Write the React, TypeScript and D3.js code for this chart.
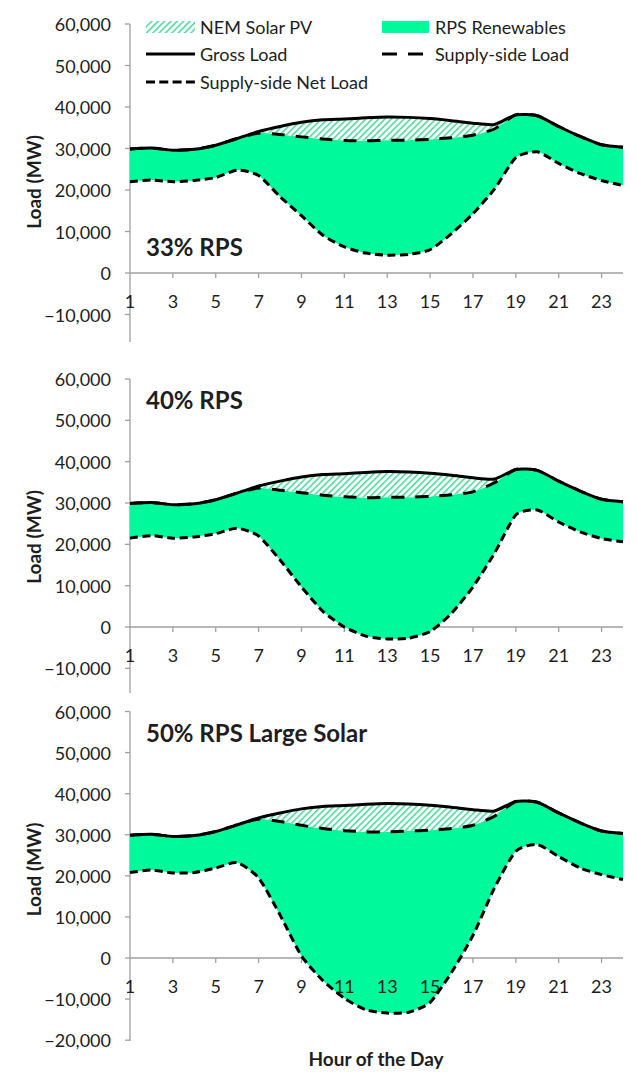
import React from 'react';
import * as d3 from 'd3';

const hours = [1, 2, 3, 4, 5, 6, 7, 8, 9, 10, 11, 12, 13, 14, 15, 16, 17, 18, 19, 20, 21, 22, 23, 24];
const xTickLabels = [1, 3, 5, 7, 9, 11, 13, 15, 17, 19, 21, 23];
const yTicks = [60000, 50000, 40000, 30000, 20000, 10000, 0, -10000, -20000];

const grossLoad = [29900, 30100, 29600, 29800, 30800, 32400, 34100, 35300, 36300, 36900, 37100, 37400, 37600, 37500, 37200, 36700, 36100, 35800, 38100, 37900, 35300, 32900, 30900, 30300];

const supplyLoad33 = [29900, 30100, 29600, 29800, 30800, 32400, 33700, 33400, 32800, 32300, 31950, 31850, 32000, 32000, 32200, 32600, 33200, 34700, 38100, 37900, 35300, 32900, 30900, 30300];
const netLoad33 = [22000, 22400, 22000, 22300, 23000, 24800, 23500, 18400, 13800, 9100, 6300, 4800, 4300, 4500, 5600, 9500, 14300, 20200, 27800, 29200, 26400, 24000, 22300, 21100];

const supplyLoad40 = [29900, 30100, 29600, 29800, 30800, 32400, 33600, 33100, 32500, 31900, 31500, 31300, 31400, 31400, 31600, 32000, 32700, 34900, 38100, 37900, 35300, 32900, 30900, 30300];
const netLoad40 = [21500, 22100, 21500, 21800, 22600, 23900, 22000, 16200, 9700, 3800, 0, -2200, -2900, -2700, -1100, 3300, 9700, 17800, 27100, 28300, 25400, 23000, 21400, 20600];

const supplyLoad50 = [29900, 30100, 29600, 29800, 30800, 32400, 33800, 33200, 32300, 31500, 31000, 30700, 30700, 30900, 31100, 31500, 32300, 34500, 38100, 37900, 35300, 32900, 30900, 30300];
const netLoad50 = [20800, 21400, 20700, 20800, 21900, 23200, 19500, 10500, 500, -5500, -9800, -12600, -13400, -13200, -10800, -3500, 5500, 17000, 26000, 27600, 24700, 21900, 20300, 19100];

const panelTitles = ['33% RPS', '40% RPS', '50% RPS Large Solar'];
const legendItems = ['NEM Solar PV', 'RPS Renewables', 'Gross Load', 'Supply-side Load', 'Supply-side Net Load'];

const FONT = 'Lato, "Open Sans", sans-serif';
const GREEN = '#00F99A';
const AXIS = '#a0a0a0';
const TEXT = '#1e1e1e';

const panels = [
  { title: panelTitles[0], supply: supplyLoad33, net: netLoad33, top: 24, zero: 273, axisBottom: 342, minTick: -10000, titleY: 246 },
  { title: panelTitles[1], supply: supplyLoad40, net: netLoad40, top: 379, zero: 627, axisBottom: 693, minTick: -10000, titleY: 399 },
  { title: panelTitles[2], supply: supplyLoad50, net: netLoad50, top: 711.5, zero: 958, axisBottom: 1041, minTick: -20000, titleY: 732 },
];

const x = d3.scaleLinear().domain([1, 24]).range([130, 623]);

function Panel({ p }: { p: any }) {
  const y = d3.scaleLinear().domain([0, 60000]).range([p.zero, p.top]);
  const curve = d3.curveCardinal.tension(0.35);
  const rows = hours.map((h, i) => ({ h, g: grossLoad[i], s: p.supply[i], n: p.net[i] }));
  const greenArea = d3.area<any>().x(d => x(d.h)).y0(d => y(d.n)).y1(d => y(d.s)).curve(curve)(rows) || '';
  const hatchArea = d3.area<any>().x(d => x(d.h)).y0(d => y(d.s)).y1(d => y(d.g)).curve(curve)(rows) || '';
  const grossLine = d3.line<any>().x(d => x(d.h)).y(d => y(d.g)).curve(curve)(rows) || '';
  const supplyLine = d3.line<any>().x(d => x(d.h)).y(d => y(d.s)).curve(curve)(rows) || '';
  const netLine = d3.line<any>().x(d => x(d.h)).y(d => y(d.n)).curve(curve)(rows) || '';
  const fmt = d3.format(',');
  const ticks = yTicks.filter(t => t >= p.minTick);
  return (
    <g>
      <line x1={130} x2={130} y1={p.top} y2={p.axisBottom} stroke={AXIS} strokeWidth={1.3} />
      <line x1={130} x2={623} y1={p.zero} y2={p.zero} stroke={AXIS} strokeWidth={1.3} />
      {ticks.map(t => (
        <g key={t}>
          <line x1={125} x2={130} y1={y(t)} y2={y(t)} stroke={AXIS} strokeWidth={1.3} />
          <text x={111} y={y(t)} textAnchor="end" dominantBaseline="central" fontSize={18} fontFamily={FONT} fill={TEXT}>{fmt(t)}</text>
        </g>
      ))}
      {xTickLabels.filter(h => h > 1).map(h => (
        <line key={h} x1={x(h)} x2={x(h)} y1={p.zero} y2={p.zero + 5} stroke={AXIS} strokeWidth={1.3} />
      ))}
      <path d={greenArea} fill={GREEN} />
      <path d={hatchArea} fill="url(#hatch)" />
      {xTickLabels.map(h => (
        <text key={h} x={x(h)} y={p.zero + 28} textAnchor="middle" dominantBaseline="central" fontSize={18} fontFamily={FONT} fill={TEXT}>{h}</text>
      ))}
      <path d={supplyLine} fill="none" stroke="#000" strokeWidth={3} strokeDasharray="13,11" />
      <path d={netLine} fill="none" stroke="#000" strokeWidth={3} strokeDasharray="8,4.5" />
      <path d={grossLine} fill="none" stroke="#000" strokeWidth={3} />
      <text transform={`translate(33,${p.top + 158}) rotate(-90)`} textAnchor="middle" dominantBaseline="central" fontSize={19} fontWeight="bold" fontFamily={FONT} fill={TEXT}>Load (MW)</text>
      <text x={146} y={p.titleY} dominantBaseline="central" fontSize={24} fontWeight="bold" fontFamily={FONT} fill={TEXT}>{p.title}</text>
    </g>
  );
}

function Legend() {
  return (
    <g fontFamily={FONT} fontSize={18} fill={TEXT}>
      <rect x={146} y={21} width={49} height={12} fill="url(#hatch)" />
      <text x={200} y={27} dominantBaseline="central">{legendItems[0]}</text>
      <rect x={382} y={21} width={47} height={12} fill={GREEN} />
      <text x={435} y={27} dominantBaseline="central">{legendItems[1]}</text>
      <line x1={146} x2={195} y1={54} y2={54} stroke="#000" strokeWidth={3} />
      <text x={200} y={54} dominantBaseline="central">{legendItems[2]}</text>
      <line x1={382} x2={423} y1={54} y2={54} stroke="#000" strokeWidth={3} strokeDasharray="15,11" />
      <text x={435} y={54} dominantBaseline="central">{legendItems[3]}</text>
      <line x1={146} x2={195} y1={82} y2={82} stroke="#000" strokeWidth={3} strokeDasharray="9,4.3" />
      <text x={200} y={82} dominantBaseline="central">{legendItems[4]}</text>
    </g>
  );
}

export default function App() {
  return (
    <svg width={638} height={1072} style={{ position: 'absolute', left: 0, top: 0, background: '#fff' }}>
      <defs>
        <pattern id="hatch" patternUnits="userSpaceOnUse" width={4.5} height={4.5} patternTransform="rotate(45)">
          <rect width={4.5} height={4.5} fill="#fff" />
          <rect width={1.6} height={4.5} fill="#4fdc9f" />
        </pattern>
      </defs>
      <rect width={638} height={1072} fill="#fff" />
      {panels.map((p, i) => <Panel key={i} p={p} />)}
      <Legend />
      <text x={376} y={1058} textAnchor="middle" dominantBaseline="central" fontSize={19} fontWeight="bold" fontFamily={FONT} fill={TEXT}>Hour of the Day</text>
    </svg>
  );
}
